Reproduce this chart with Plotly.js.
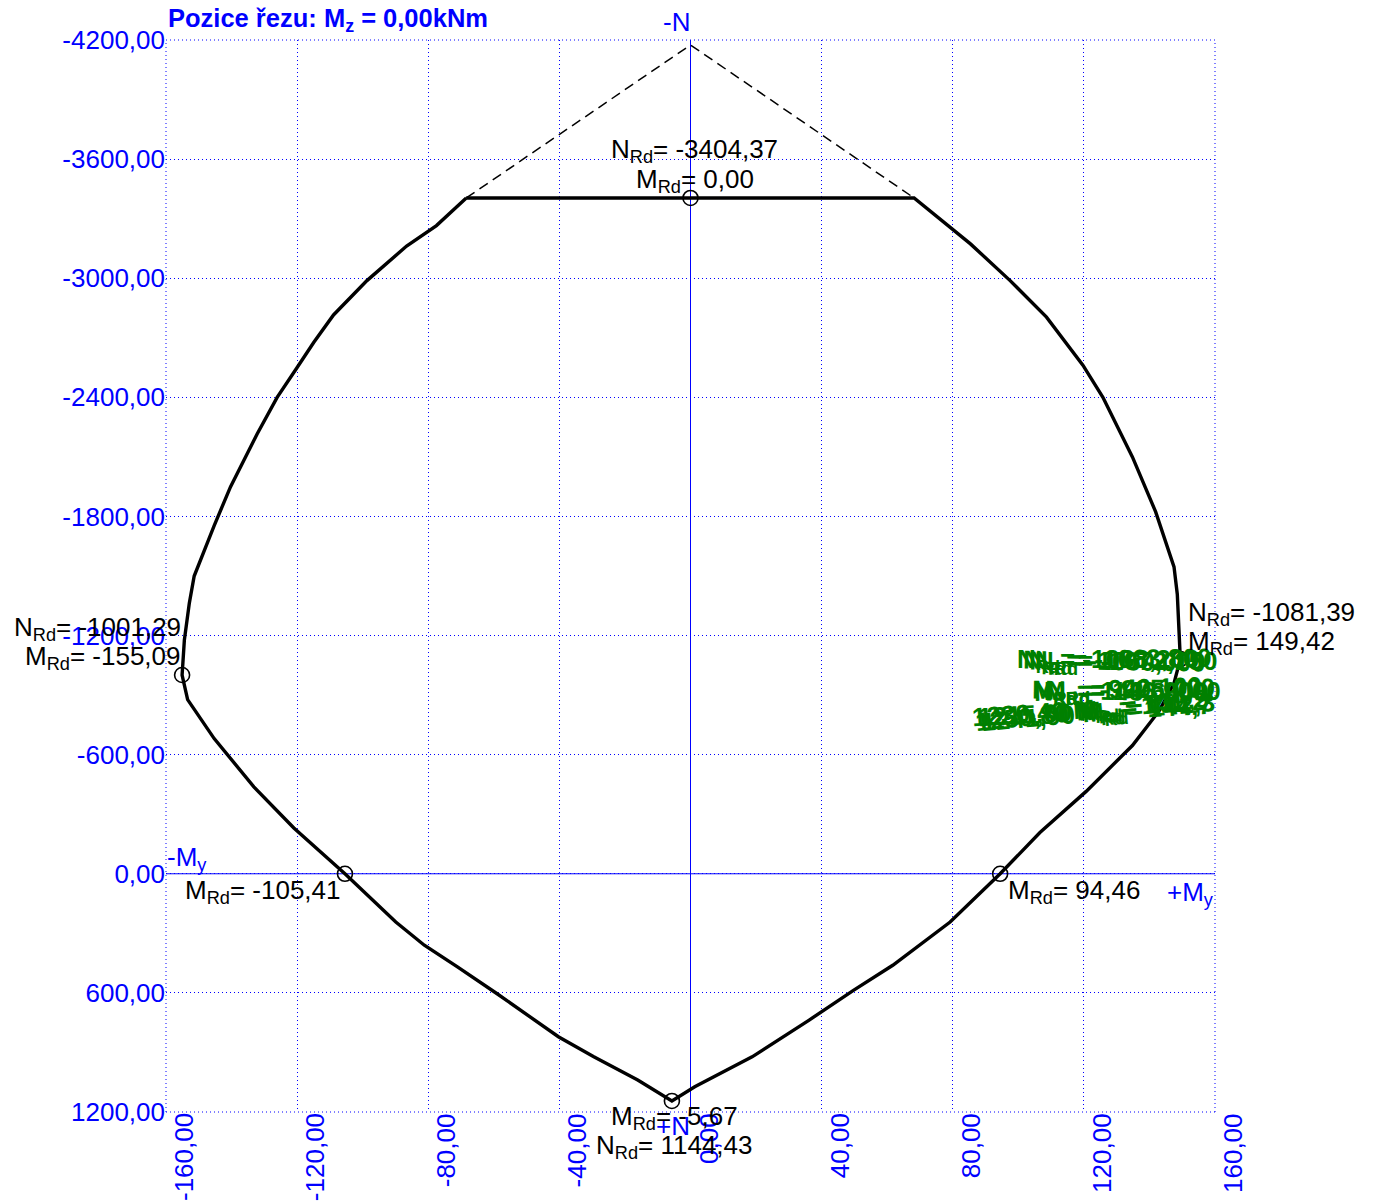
<!DOCTYPE html>
<html><head><meta charset="utf-8">
<script src="https://cdn.plot.ly/plotly-3.0.1.min.js"></script>
<style>body{margin:0;background:#fff}#chart{width:1381px;height:1203px}</style>
</head><body><div id="chart"></div>
<script>
// Interaction curve My [kNm] vs N [kN]
const curveM = [-68.4, -77.5, -86.6, -98.7, -108.9, -114.9, -120.0, -126.1, -132.2, -140.3, -145.3, -151.4, -152.9, -154.4, -155.09, -153.4, -145.3, -133.2, -121.0, -105.41,
  -89.9, -81.2, -71.1, -59.1, -40.3, -29.5, -16.1, -9.4, -5.67,
  1.3, 18.8, 36.2, 49.7, 61.7, 79.2, 94.46,
  106.6, 120.7, 134.8, 142.9, 147.5, 149.42, 148.5, 147.5, 141.9, 134.8, 125.8, 119.7, 108.6, 97.5, 85.4, 68.2, -68.4];
const curveN = [-3404.37, -3265, -3162, -2988, -2815, -2677, -2550, -2400, -2215, -1950, -1754, -1500, -1362, -1177, -1001.29, -877, -681, -438, -231, 0,
  243, 360, 469, 603, 821, 922, 1039, 1106, 1144.43,
  1073, 922, 737, 587, 461, 243, 0,
  -208, -415, -646, -819, -960, -1081.39, -1408, -1546, -1823, -2100, -2400, -2562, -2804, -2988, -3173, -3404.37, -3404.37];
// Envelope (dashed) to the pure compression point
const envelopeM = [-68.4, 0, 68.2];
const envelopeN = [-3404.37, -4175, -3404.37];
// Marked points
const pointM = [0, -155.09, -105.41, 94.46, -5.67, 149.42];
const pointN = [-3404.37, -1001.29, 0, 0, 1144.43, -1081.39];
const pointLabelN = ['N<sub>Rd</sub>= -3404,37', 'N<sub>Rd</sub>= -1001,29', '', '', 'N<sub>Rd</sub>= 1144,43', 'N<sub>Rd</sub>= -1081,39'];
const pointLabelM = ['M<sub>Rd</sub>= 0,00', 'M<sub>Rd</sub>= -155,09', 'M<sub>Rd</sub>= -105,41', 'M<sub>Rd</sub>= 94,46', 'M<sub>Rd</sub>= -5,67', 'M<sub>Rd</sub>= 149,42'];
// Axes
const xTicks = [-160, -120, -80, -40, 0, 40, 80, 120, 160];
const xTickText = ['-160,00', '-120,00', '-80,00', '-40,00', '0,00', '40,00', '80,00', '120,00', '160,00'];
const yTicks = [-4200, -3600, -3000, -2400, -1800, -1200, -600, 0, 600, 1200];
const yTickText = ['-4200,00', '-3600,00', '-3000,00', '-2400,00', '-1800,00', '-1200,00', '-600,00', '0,00', '600,00', '1200,00'];
const titleText = 'Pozice řezu: M<sub>z</sub> = 0,00kNm';
const axisLabels = ['-N', '+N', '-M<sub>y</sub>', '+M<sub>y</sub>'];
// Overlapping green labels (garbled in the source)
const greenRow1 = ['N<sub>Rd</sub>= -1072,150', 'N<sub>Rd</sub>= -1063,800', 'N<sub>Rd</sub>= -1050,000', 'N<sub>Rd</sub>= -1088,200'];
const greenRow2 = ['M<sub>Rd</sub>= 146,9000', 'N<sub>Rd</sub>= -925,400', 'M<sub>Rd</sub>= 143,6000', 'N<sub>Rd</sub>= -940,100'];
const greenRow3 = ['1230,40 M<sub>Rd</sub>= 141,2', '1250,80 M<sub>Rd</sub>= 139,5', '1215,60 M<sub>Rd</sub>= 144,7', '1241,90 M<sub>Rd</sub>= 142,3'];
const greenN = [-1067, -920, -815];
const greenStartM = 85.3;

const FONT = 'Liberation Sans, Arial, sans-serif';
const BLUE = '#0000ff';
const FS = 26;

const traces = [
  {x: envelopeM, y: envelopeN, mode: 'lines', line: {color: '#000', width: 1.5, dash: '10px,6px'}, hoverinfo: 'skip'},
  {x: curveM, y: curveN, mode: 'lines', line: {color: '#000', width: 3.4}, hoverinfo: 'skip'},
  {x: pointM, y: pointN, mode: 'markers', marker: {symbol: 'circle-open', size: 15, color: '#000', line: {width: 1.6, color: '#000'}}, hoverinfo: 'skip'}
];

const ann = [];
const blk = {family: FONT, size: FS, color: '#000'};
const blu = {family: FONT, size: FS, color: BLUE};
function A(o) { ann.push(Object.assign({showarrow: false, xref: 'x', yref: 'y', borderpad: 0}, o)); }

// green overlapping labels (drawn first, beneath the black ones)
const grn = {family: FONT, size: 26, color: '#008000'};
[4, -2, -8, -14].forEach((s, i) => {
  A({text: '<b>' + greenRow1[i] + '</b>', x: 160, y: greenN[0], xanchor: 'right', yanchor: 'middle', xshift: s, yshift: (i % 2) * 2 - 1, textangle: [0, -1, 1, 0][i], font: grn});
  A({text: '<b>' + greenRow2[i] + '</b>', x: 160, y: greenN[1], xanchor: 'right', yanchor: 'middle', xshift: s + 3, yshift: (i % 2) * 2 - 1, textangle: [0, -1, 1, -2][i], font: grn});
  A({text: '<b>' + greenRow3[i] + '</b>', x: greenStartM, y: greenN[2], xanchor: 'left', yanchor: 'middle', xshift: i * 3, yshift: 1 - i, textangle: [-4, -6, -3, -5][i], font: grn});
});

// title
ann.push({text: '<b>' + titleText + '</b>', xref: 'paper', yref: 'paper', x: 0, y: 1, xanchor: 'left', yanchor: 'bottom', yshift: 2, showarrow: false, font: {family: FONT, size: 25.5, color: BLUE}});
// x tick labels rotated
xTicks.forEach((v, i) => A({text: xTickText[i], x: v, y: 1200, textangle: -90, xanchor: 'left', yanchor: 'top', xshift: 2, yshift: 0, font: blu}));
// axis labels
A({text: axisLabels[0], x: 0, y: -4200, xanchor: 'right', yanchor: 'bottom', xshift: 0, yshift: 2, font: blu});
A({text: axisLabels[1], x: 0, y: 1200, xanchor: 'right', yanchor: 'top', xshift: 0, yshift: 2, font: blu});
A({text: axisLabels[2], x: -160, y: 0, xanchor: 'left', yanchor: 'bottom', xshift: 0, yshift: -2, font: blu});
A({text: axisLabels[3], x: 160, y: 0, xanchor: 'right', yanchor: 'top', xshift: 0, yshift: -2, font: blu});

// point labels
A({text: pointLabelN[0], x: pointM[0], y: pointN[0], xanchor: 'center', yanchor: 'bottom', xshift: 4, yshift: 30, font: blk});
A({text: pointLabelM[0], x: pointM[0], y: pointN[0], xanchor: 'center', yanchor: 'bottom', xshift: 4, yshift: 0, font: blk});
A({text: pointLabelN[1], x: pointM[1], y: pointN[1], xanchor: 'right', yanchor: 'bottom', xshift: 0, yshift: 29, font: blk});
A({text: pointLabelM[1], x: pointM[1], y: pointN[1], xanchor: 'right', yanchor: 'bottom', xshift: 0, yshift: 0, font: blk});
A({text: pointLabelM[2], x: pointM[2], y: pointN[2], xanchor: 'right', yanchor: 'top', xshift: -3, yshift: 0, font: blk});
A({text: pointLabelM[3], x: pointM[3], y: pointN[3], xanchor: 'left', yanchor: 'top', xshift: 7, yshift: 0, font: blk});
A({text: pointLabelM[4], x: pointM[4], y: pointN[4], xanchor: 'center', yanchor: 'top', xshift: 3, yshift: 1, font: blk});
A({text: pointLabelN[4], x: pointM[4], y: pointN[4], xanchor: 'center', yanchor: 'top', xshift: 3, yshift: -28, font: blk});
A({text: pointLabelN[5], x: pointM[5], y: pointN[5], xanchor: 'left', yanchor: 'bottom', xshift: 7, yshift: 28, font: blk});
A({text: pointLabelM[5], x: pointM[5], y: pointN[5], xanchor: 'left', yanchor: 'bottom', xshift: 7, yshift: -1, font: blk});

const gridDash = '1px,3px';
const edge = {type: 'line', layer: 'below', line: {color: BLUE, width: 1, dash: gridDash}};
const shapes = [
  Object.assign({xref: 'paper', yref: 'paper', x0: 0, x1: 1, y0: 1, y1: 1}, edge),
  Object.assign({xref: 'paper', yref: 'paper', x0: 0, x1: 1, y0: 0, y1: 0}, edge),
  Object.assign({xref: 'paper', yref: 'paper', x0: 0, x1: 0, y0: 0, y1: 1}, edge),
  Object.assign({xref: 'paper', yref: 'paper', x0: 1, x1: 1, y0: 0, y1: 1}, edge),
  // blue axis cross lines
  {type: 'line', layer: 'below', xref: 'paper', yref: 'y', x0: 0, x1: 1, y0: 0, y1: 0, line: {color: BLUE, width: 1}},
  {type: 'line', layer: 'below', xref: 'x', yref: 'paper', x0: 0, x1: 0, y0: 0, y1: 1, line: {color: BLUE, width: 1}}
];
const layout = {
  width: 1381, height: 1203,
  margin: {l: 166, r: 166, t: 40, b: 91, pad: 0},
  paper_bgcolor: '#fff', plot_bgcolor: '#fff',
  showlegend: false,
  font: {family: FONT},
  xaxis: {range: [-160, 160], autorange: false, tickvals: xTicks, showticklabels: false, ticks: '',
    showgrid: true, gridcolor: BLUE, gridwidth: 1, griddash: gridDash,
    zeroline: false, showline: false, fixedrange: true},
  yaxis: {range: [1200, -4200], autorange: false, tickvals: yTicks, ticktext: yTickText, ticks: '',
    tickfont: {family: FONT, size: 26, color: BLUE},
    showgrid: true, gridcolor: BLUE, gridwidth: 1, griddash: gridDash,
    zeroline: false, showline: false, fixedrange: true},
  shapes: shapes,
  annotations: ann
};
Plotly.newPlot('chart', traces, layout, {staticPlot: true, displayModeBar: false});
</script>
</body></html>
